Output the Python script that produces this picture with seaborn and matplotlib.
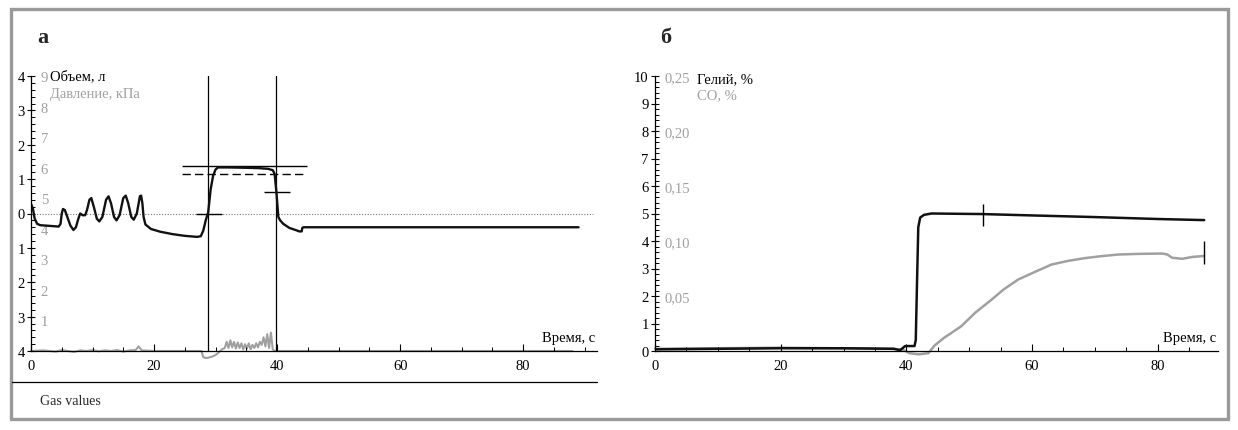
import numpy as np
import pandas as pd
import matplotlib
matplotlib.use("Agg")
import matplotlib.pyplot as plt
import seaborn as sns
from matplotlib.patches import Rectangle
from matplotlib.lines import Line2D
from matplotlib.ticker import MultipleLocator, FuncFormatter, FixedLocator

sns.set_theme(style="white")
plt.rcParams["font.family"] = ["Liberation Serif", "DejaVu Serif"]

# === Panel a: volume (black) and pressure (gray) ===
vol_t = [0, 0.3, 0.6, 1.0, 1.5, 3, 4.5, 4.8, 5.0, 5.2, 5.5, 5.9, 6.4, 6.9, 7.3, 7.7, 8.0,
         8.4, 8.8, 9.1, 9.5, 9.8, 10.2, 10.7, 11.1, 11.6, 12.2, 12.6, 13.0, 13.5, 13.9,
         14.4, 15.0, 15.4, 15.8, 16.3, 16.7, 17.2, 17.7, 17.9, 18.1, 18.3, 18.6, 19.5,
         21, 23, 25, 27, 27.6, 28.0, 28.4, 28.8, 29.2, 29.6, 30.0, 30.4, 32, 35, 37,
         38.5, 39.3, 39.6, 39.9, 40.2, 40.5, 41, 42, 43, 43.6, 44.0, 44.1, 44.3, 60, 75, 89]
vol_v = [0.28, 0.15, -0.15, -0.3, -0.34, -0.36, -0.38, -0.3, 0.0, 0.13, 0.1, -0.1, -0.35,
         -0.48, -0.4, -0.15, 0.0, -0.05, -0.05, 0.1, 0.4, 0.45, 0.2, -0.15, -0.23, -0.1,
         0.4, 0.5, 0.3, -0.1, -0.2, -0.05, 0.45, 0.52, 0.3, -0.1, -0.18, 0.0, 0.5, 0.52,
         0.3, -0.1, -0.32, -0.45, -0.53, -0.6, -0.65, -0.68, -0.66, -0.5, -0.2, 0.03, 0.7,
         1.1, 1.28, 1.34, 1.34, 1.33, 1.32, 1.30, 1.26, 1.15, 0.6, -0.1, -0.2, -0.3, -0.42,
         -0.48, -0.52, -0.52, -0.42, -0.4, -0.4, -0.4, -0.4]

pres_t = [0, 2, 4, 5, 6, 7, 8, 9, 10, 11, 12, 13, 14, 15, 16, 17, 17.5, 18, 20, 25, 27.7,
          28.0, 28.4, 28.8, 29.5, 30, 30.5, 31, 31.5, 31.8, 32.1, 32.4, 32.7, 33.0, 33.3,
          33.6, 33.9, 34.2, 34.5, 34.8, 35.1, 35.4, 35.7, 36, 36.3, 36.6, 36.9, 37.2, 37.5,
          37.8, 38.1, 38.4, 38.7, 39.0, 39.3, 39.6, 40, 88]
pres_v = [0.0, 0.02, -0.02, 0.03, 0.0, -0.03, 0.02, 0.0, 0.03, -0.01, 0.02, 0.0, 0.03,
          -0.02, 0.02, 0.03, 0.15, 0.02, 0.0, 0.0, 0.0, -0.2, -0.23, -0.22, -0.18, -0.13,
          -0.05, 0.05, 0.1, 0.3, 0.1, 0.35, 0.12, 0.3, 0.08, 0.28, 0.1, 0.25, 0.05, 0.22,
          0.08, 0.25, 0.06, 0.2, 0.1, 0.25, 0.12, 0.3, 0.2, 0.45, 0.15, 0.55, 0.1, 0.6,
          0.05, 0.0, 0.0, 0.0]

cursor_t = [28.8, 39.8]
level_solid = 1.37
level_dash = 1.16
level_span = [24.5, 44.9]
mark_a = [(26.8, 31.0, 0.0), (37.9, 42.1, 0.64)]

# === Panel b: helium (black) and CO (gray) ===
he_t = [0, 10, 20, 30, 38, 39.0, 39.5, 39.8, 41.3, 41.5, 41.7, 41.9, 42.2, 42.8, 44, 52,
        60, 70, 80, 87.4]
he_v = [0.06, 0.08, 0.1, 0.1, 0.08, 0.03, 0.12, 0.18, 0.18, 0.4, 2.5, 4.5, 4.85, 4.95,
        5.0, 4.98, 4.93, 4.87, 4.8, 4.76]
co_t = [0, 20, 38, 39.5, 40.5, 42, 43.5, 44.5, 46, 48.7, 51, 53.5, 55.5, 57.8, 60.5, 63.1,
        65.8, 68.5, 71, 73.7, 77, 80.7, 81.5, 82.3, 83.9, 85.5, 87.4]
co_v = [0.002, 0.003, 0.002, 0.001, -0.002, -0.003, -0.002, 0.005, 0.012, 0.0223, 0.035,
        0.0464, 0.056, 0.065, 0.072, 0.0786, 0.082, 0.0845, 0.0862, 0.0877, 0.0883,
        0.0886, 0.0878, 0.0848, 0.0838, 0.0855, 0.0864]
he_mark = (52.2, 4.55, 5.35)
co_mark = (87.4, 0.0795, 0.0998)

GRAY = "#a0a0a0"
FS = 10.5

fig = plt.figure(figsize=(12.38, 4.31), dpi=100)
W, H = 1238, 431


def style_axis(ax, xmax, ymin, ymax):
    ax.set_xlim(0, xmax)
    ax.set_ylim(ymin, ymax)
    for s in ["top", "right"]:
        ax.spines[s].set_visible(False)
    for s in ["left", "bottom"]:
        ax.spines[s].set_color("black")
        ax.spines[s].set_linewidth(0.9)
    ax.set_facecolor("white")
    ax.xaxis.set_major_locator(MultipleLocator(20))
    ax.xaxis.set_minor_locator(MultipleLocator(5))
    ax.yaxis.set_major_locator(MultipleLocator(1))
    ax.yaxis.set_minor_locator(MultipleLocator(0.2))
    ax.tick_params(which="both", direction="in", color="black", labelsize=FS,
                   labelcolor="black", left=True, bottom=True)
    ax.tick_params(which="major", length=5, width=0.8)
    ax.tick_params(which="minor", length=3, width=0.7)
    ax.tick_params(axis="y", which="major", direction="inout", length=6, pad=1.5)
    ax.tick_params(axis="x", pad=6)
    ax.set_xlabel("")
    ax.set_ylabel("")
    ax.grid(False)


def inner_axis(ax, pad):
    # second scale whose labels sit just right of the main y axis
    ax.spines["right"].set_position(("axes", 0))
    for s in ["top", "right", "left", "bottom"]:
        ax.spines[s].set_visible(False)
    ax.tick_params(axis="y", which="both", length=0, pad=pad, labelsize=FS,
                   labelcolor=GRAY, right=True, labelright=True)
    ax.yaxis.set_minor_locator(FixedLocator([]))


# ---- panel a
ax1 = fig.add_axes([31 / W, 1 - 352 / H, 566 / W, 275 / H])
ax1p = ax1.twinx()
ax1p.set_ylim(0, 9)
ax1p.yaxis.set_major_locator(FixedLocator(range(1, 10)))
inner_axis(ax1p, 7)
sns.lineplot(x=pres_t, y=pres_v, ax=ax1p, color=GRAY, lw=1.5, estimator=None,
             sort=False, clip_on=False)
ax1p.set_ylabel("")

ax1.axhline(0, color="#777777", lw=0.8, ls=(0, (1, 1.5)), xmax=0.993)
for t in cursor_t:
    ax1.axvline(t, color="black", lw=0.9)
ax1.hlines(level_solid, *level_span, color="black", lw=1.0)
ax1.hlines(level_dash, *level_span, color="black", lw=1.0, ls=(0, (6, 3)))
for t0, t1, v in mark_a:
    ax1.hlines(v, t0, t1, color="black", lw=1.0)
sns.lineplot(x=vol_t, y=vol_v, ax=ax1, color="#111111", lw=1.7, estimator=None, sort=False)
style_axis(ax1, 92, -4, 4)
ax1.yaxis.set_major_formatter(FuncFormatter(lambda v, p: f"{abs(v):.0f}"))
ax1.set_zorder(ax1p.get_zorder() + 1)
ax1.patch.set_visible(False)
ax1p.patch.set_visible(True)
ax1p.patch.set_facecolor("white")

ax1.text(0.034, 1.0, "Объем, л", transform=ax1.transAxes, fontsize=FS,
         color="black", va="center", ha="left")
ax1.text(0.034, 0.938, "Давление, кПа", transform=ax1.transAxes, fontsize=FS,
         color=GRAY, va="center", ha="left")
ax1.text(0.996, 0.05, "Время, с", transform=ax1.transAxes, fontsize=FS,
         color="black", va="center", ha="right")

# ---- panel b
ax2 = fig.add_axes([655 / W, 1 - 352 / H, 563 / W, 275 / H])
ax2c = ax2.twinx()
ax2c.set_ylim(0, 0.25)
ax2c.yaxis.set_major_locator(FixedLocator([0.05, 0.10, 0.15, 0.20, 0.25]))
ax2c.yaxis.set_major_formatter(FuncFormatter(lambda v, p: f"{v:.2f}".replace(".", ",")))
inner_axis(ax2c, 7)
sns.lineplot(x=co_t, y=co_v, ax=ax2c, color=GRAY, lw=1.8, estimator=None,
             sort=False, clip_on=False)
ax2c.vlines(co_mark[0], co_mark[1], co_mark[2], color="black", lw=1.0)
ax2c.set_ylabel("")

sns.lineplot(x=he_t, y=he_v, ax=ax2, color="#111111", lw=1.8, estimator=None, sort=False)
ax2.vlines(he_mark[0], he_mark[1], he_mark[2], color="black", lw=1.0)
style_axis(ax2, 89.6, 0, 10)
ax2.set_zorder(ax2c.get_zorder() + 1)
ax2.patch.set_visible(False)
ax2c.patch.set_visible(True)
ax2c.patch.set_facecolor("white")

ax2.text(0.0746, 0.989, "Гелий, %", transform=ax2.transAxes, fontsize=FS,
         color="black", va="center", ha="left")
ax2.text(0.0746, 0.931, "CO, %", transform=ax2.transAxes, fontsize=FS,
         color=GRAY, va="center", ha="left")
ax2.text(0.996, 0.05, "Время, с", transform=ax2.transAxes, fontsize=FS,
         color="black", va="center", ha="right")

# ---- frame and captions
fig.patches.append(Rectangle((11 / W, 1 - 420 / H), 1217 / W, 410 / H, fill=False,
                             edgecolor="#9a9a9a", lw=2.4, transform=fig.transFigure))
fig.lines.append(Line2D([12 / W, 597 / W], [1 - 383 / H, 1 - 383 / H], color="black",
                        lw=0.9, transform=fig.transFigure))
fig.text(40 / W, 1 - 402 / H, "Gas values", fontsize=10, va="center", ha="left")
fig.text(37 / W, 1 - 38 / H, "а", fontsize=16, fontweight="bold", va="center", ha="left")
fig.text(660 / W, 1 - 38 / H, "б", fontsize=16, fontweight="bold", va="center", ha="left")

fig.savefig("out.png", dpi=100, facecolor="white")
